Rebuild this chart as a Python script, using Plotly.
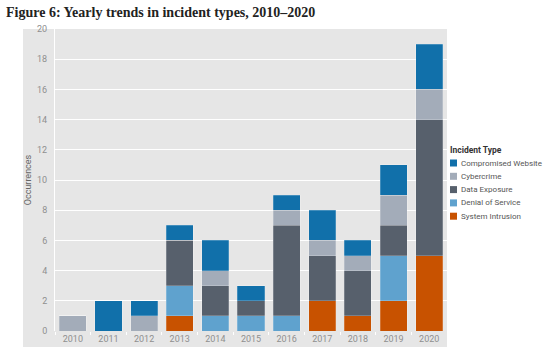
import plotly.graph_objects as go

years = ["2010", "2011", "2012", "2013", "2014", "2015", "2016", "2017", "2018", "2019", "2020"]

# series in legend order (top of stack first)
series_names = ["Compromised Website", "Cybercrime", "Data Exposure", "Denial of Service", "System Intrusion"]
series_colors = ["#1170aa", "#a3acb9", "#57606c", "#5fa2ce", "#c85200"]

compromised_website = [0, 2, 1, 1, 2, 1, 1, 2, 1, 2, 3]
cybercrime          = [1, 0, 1, 0, 1, 0, 1, 1, 1, 2, 2]
data_exposure       = [0, 0, 0, 3, 2, 1, 6, 3, 3, 2, 9]
denial_of_service   = [0, 0, 0, 2, 1, 1, 1, 0, 0, 3, 0]
system_intrusion    = [0, 0, 0, 1, 0, 0, 0, 2, 1, 2, 5]

series_values = [compromised_website, cybercrime, data_exposure, denial_of_service, system_intrusion]

y_ticks = [0, 2, 4, 6, 8, 10, 12, 14, 16, 18, 20]

W, H = 548, 351
L, R, T, B = 55, 101, 29, 20
PW, PH = W - L - R, H - T - B

def px(x):
    return (x - L) / PW

def py(y):
    return (H - B - y) / PH

fig = go.Figure()
# stack bottom-up: reverse of legend order
for name, color, vals in reversed(list(zip(series_names, series_colors, series_values))):
    fig.add_trace(go.Bar(
        x=years, y=vals, name=name,
        marker=dict(color=color, line=dict(color="rgba(255,255,255,0.35)", width=0.6)),
        showlegend=False,
    ))

grey = "#e6e6e6"
shapes = [dict(type="rect", xref="paper", yref="paper", x0=px(23), x1=1, y0=py(347), y1=1,
               fillcolor=grey, line=dict(width=0), layer="below")]
annotations = [
    dict(text="<b>Figure 6: Yearly trends in incident types, 2010–2020</b>", xref="paper", yref="paper",
         x=px(4), y=py(12), xanchor="left", yanchor="middle", showarrow=False,
         font=dict(family="Liberation Serif", size=14, color="#222222")),
    dict(text="<b>Incident Type</b>", xref="paper", yref="paper", x=px(448), y=py(150),
         xanchor="left", yanchor="middle", showarrow=False,
         font=dict(family="Roboto", size=8.5, color="#333333")),
]
for i, (name, color) in enumerate(zip(series_names, series_colors)):
    yc = 163 + i * 13.3
    shapes.append(dict(type="rect", xref="paper", yref="paper", x0=px(450), x1=px(457),
                       y0=py(yc + 3.5), y1=py(yc - 3.5), fillcolor=color, line=dict(width=0)))
    annotations.append(dict(text=name, xref="paper", yref="paper", x=px(459), y=py(yc),
                            xanchor="left", yanchor="middle", showarrow=False,
                            font=dict(family="Roboto", size=8, color="#555555")))

fig.update_layout(
    width=W, height=H,
    margin=dict(l=L, r=R, t=T, b=B, autoexpand=False),
    barmode="stack", bargap=0.24,
    paper_bgcolor="white", plot_bgcolor=grey,
    shapes=shapes, annotations=annotations,
    font=dict(family="Roboto", size=9, color="#8a8a8a"),
)
fig.update_xaxes(type="category", showgrid=False, ticks="outside", tickson="boundaries",
                 ticklen=3, tickcolor="white", ticklabelstandoff=1, automargin=False,
                 tickfont=dict(size=9, color="#8f8f8f"))
fig.update_yaxes(range=[0, 20], tickvals=y_ticks, showgrid=True, gridcolor="white", gridwidth=1,
                 zeroline=False, showline=True, linecolor="white", linewidth=1, automargin=False,
                 ticklabelstandoff=5, tickfont=dict(size=9, color="#8f8f8f"),
                 title=dict(text="Occurrences", standoff=3, font=dict(size=9, color="#666666")))

fig.write_html("out.html")
